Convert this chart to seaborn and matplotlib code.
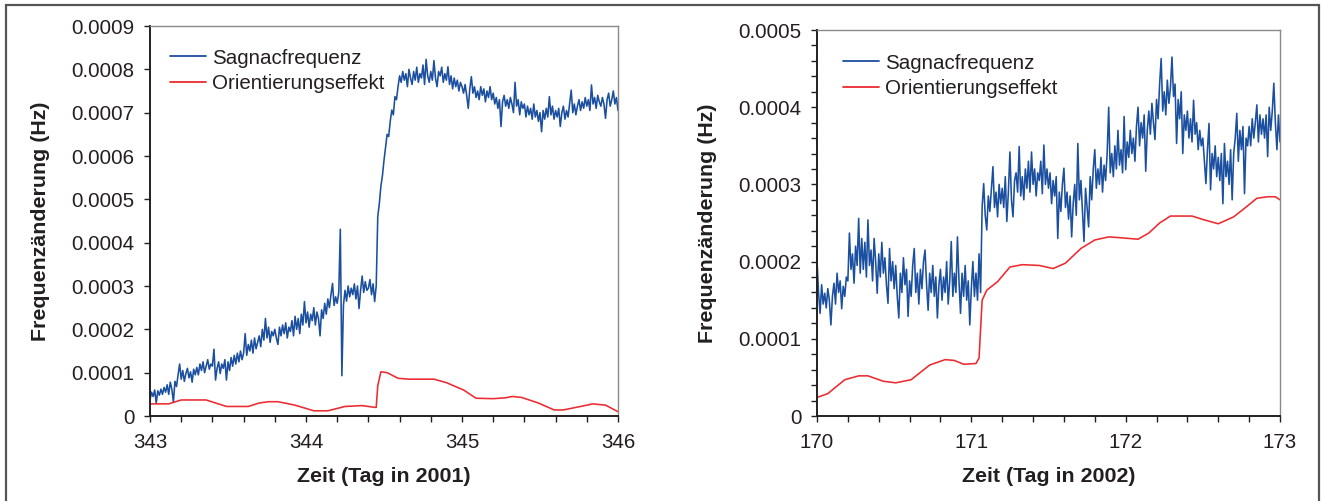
import numpy as np
import pandas as pd
import matplotlib
matplotlib.use("Agg")
import matplotlib.pyplot as plt
from matplotlib.patches import Rectangle
from matplotlib.ticker import MultipleLocator, FixedLocator
import seaborn as sns

# ---------------- data (values in units of 1e-4 Hz) ----------------
series_names = ["Sagnacfrequenz", "Orientierungseffekt"]

# Panel 1: day 343 .. 346 of 2001, Sagnac frequency sampled every 0.01 day
sagnac_2001 = [
    0.37, 0.55, 0.45, 0.6, 0.3, 0.58, 0.48, 0.62, 0.5, 0.66,
    0.55, 0.72, 0.5, 0.78, 0.62, 0.32, 0.8, 0.68, 0.95, 1.2,
    0.85, 1.05, 0.8, 0.98, 1.1, 0.88, 1.02, 0.78, 1.08, 0.95,
    1.12, 0.95, 1.2, 1.05, 1.25, 1.0, 1.15, 1.3, 1.08, 1.2,
    1.15, 1.54, 0.83, 1.1, 1.25, 0.98, 1.2, 1.1, 1.3, 0.83,
    1.25, 1.05, 1.35, 1.15, 1.4, 1.2, 1.45, 1.25, 1.5, 1.3,
    1.45, 1.9, 1.4, 1.65, 1.5, 1.75, 1.45, 1.8, 1.55, 1.7,
    1.85, 1.6, 2.0, 1.75, 2.25, 1.8, 2.05, 1.7, 1.95, 1.85,
    2.0, 1.8, 1.65, 2.05, 1.85, 2.1, 1.9, 2.15, 1.8, 2.05,
    1.95, 2.2, 1.85, 2.3, 2.0, 2.25, 1.9, 2.35, 2.1, 2.64,
    2.15, 2.4, 2.05, 2.35, 2.2, 2.5, 2.1, 2.4, 2.25, 1.85,
    2.45, 2.25, 2.6, 2.35, 2.7, 2.5, 2.8, 3.06, 2.55, 2.75,
    2.6, 2.85, 4.31, 0.93, 2.55, 2.9, 2.65, 3.0, 2.75, 2.95,
    2.8, 3.05, 2.7, 3.0, 2.48, 2.9, 3.23, 2.85, 3.1, 2.9,
    2.95, 3.15, 2.8, 3.05, 2.64, 3.0, 4.6, 4.9, 5.3, 5.55,
    5.9, 6.2, 6.5, 6.45, 6.8, 7.06, 6.95, 7.37, 7.3, 7.6,
    7.85, 7.7, 7.95, 7.75, 7.9, 7.6, 8.0, 7.8, 7.65, 7.95,
    7.75, 8.05, 7.7, 7.9, 7.8, 8.1, 7.65, 8.23, 7.85, 7.7,
    7.95, 7.75, 8.2, 7.8, 7.6, 7.95, 7.85, 8.05, 7.7, 7.9,
    7.75, 8.06, 7.65, 7.85, 7.55, 7.8, 7.6, 7.75, 7.5, 7.7,
    7.6, 7.45, 7.65, 7.4, 7.1, 7.55, 7.83, 7.45, 7.6, 7.35,
    7.5, 7.3, 7.6, 7.4, 7.55, 7.25, 7.5, 7.35, 7.6, 7.3,
    7.45, 7.2, 7.35, 7.1, 7.3, 6.68, 7.25, 7.4, 7.15, 7.3,
    7.1, 7.35, 7.2, 7.0, 7.7, 7.15, 7.3, 6.95, 7.25, 7.1,
    7.2, 6.9, 7.15, 6.95, 7.1, 6.85, 7.2, 6.9, 7.05, 6.8,
    7.0, 6.56, 7.05, 6.85, 7.1, 6.9, 7.37, 6.95, 7.15, 6.85,
    7.05, 6.9, 7.1, 6.68, 7.0, 7.15, 6.85, 7.05, 6.9, 7.2,
    7.52, 7.0, 7.2, 6.95, 7.15, 7.3, 7.05, 7.25, 7.1, 7.35,
    7.15, 7.3, 7.05, 7.64, 7.2, 7.35, 7.1, 7.4, 7.25, 7.15,
    7.35, 7.2, 6.87, 7.3, 7.45, 7.15, 7.3, 7.5, 7.2, 7.35,
    7.05,
]
orient_2001_t = [343.0, 343.12, 343.2, 343.36, 343.49, 343.63, 343.7, 343.76,
                 343.82, 343.93, 344.05, 344.14, 344.25, 344.36, 344.44, 344.45,
                 344.46, 344.48, 344.52, 344.59, 344.66, 344.82, 344.9, 345.01,
                 345.09, 345.2, 345.28, 345.32, 345.38, 345.49, 345.59, 345.65,
                 345.76, 345.84, 345.92, 346.0]
orient_2001 = [0.28, 0.28, 0.37, 0.37, 0.22, 0.22, 0.3, 0.33,
               0.33, 0.25, 0.12, 0.12, 0.22, 0.24, 0.2, 0.2,
               0.7, 1.02, 1.0, 0.87, 0.85, 0.85, 0.77, 0.6,
               0.41, 0.4, 0.42, 0.45, 0.43, 0.3, 0.14, 0.14,
               0.22, 0.28, 0.25, 0.1]

# Panel 2: day 170 .. 173 of 2002
sagnac_2002 = [
    2.02, 1.6, 1.33, 1.7, 1.45, 1.59, 1.4, 1.65, 1.5, 1.18,
    1.55, 1.72, 1.45, 1.85, 1.6, 1.75, 1.39, 1.68, 1.55, 1.8,
    1.75, 2.37, 1.9, 2.1, 1.72, 2.2, 1.95, 2.56, 1.85, 2.3,
    1.9, 2.25, 1.8, 2.54, 1.95, 2.15, 1.75, 2.3, 2.0, 1.59,
    2.1, 1.8, 2.25, 1.85, 2.05, 1.7, 1.46, 2.17, 1.75, 2.0,
    1.65, 1.95, 1.55, 1.27, 1.85, 1.6, 2.05, 1.7, 1.9, 1.29,
    1.75, 1.55, 1.95, 2.17, 1.6, 1.85, 1.45, 1.9, 1.65, 2.0,
    2.15, 1.7, 1.37, 1.85, 1.6, 1.95, 1.55, 1.8, 1.27, 1.7,
    1.9, 1.5, 1.8, 1.6, 2.0, 1.45, 1.75, 2.26, 1.55, 1.85,
    1.6, 2.32, 1.75, 1.33, 1.85, 1.55, 1.95, 1.5, 1.75, 1.18,
    1.65, 2.0, 1.55, 1.85, 1.5, 2.1, 1.6, 2.71, 3.01, 2.6,
    2.41, 2.85, 2.65, 2.95, 3.23, 2.7, 2.9, 2.58, 3.0, 2.75,
    2.95, 2.7, 3.1, 2.52, 2.9, 3.42, 2.8, 2.58, 3.05, 3.15,
    2.9, 3.49, 2.85, 3.1, 2.8, 3.2, 2.95, 3.3, 2.9, 3.42,
    3.0, 3.2, 2.85, 3.15, 3.05, 3.3, 2.88, 3.51, 3.0, 3.2,
    2.95, 3.15, 2.75, 3.05, 2.85, 3.1, 2.3, 2.9, 2.65, 3.0,
    3.21, 2.7, 2.9, 2.55, 2.85, 2.32, 2.75, 3.0, 2.6, 3.53,
    2.8, 3.05, 2.65, 2.26, 2.95, 2.7, 2.45, 3.1, 2.8, 3.2,
    3.45, 2.95, 3.2, 3.0, 3.35, 2.9, 3.25, 3.05, 3.4, 4.0,
    3.15, 3.4, 3.1, 3.5, 3.2, 3.7, 3.25, 3.45, 3.15, 3.88,
    3.19, 3.55, 3.35, 3.7, 3.4, 3.6, 3.3, 3.75, 4.0, 3.5,
    3.8, 3.6, 3.9, 3.17, 3.7, 3.95, 3.65, 4.05, 3.8, 3.58,
    4.1, 3.85, 4.3, 4.63, 3.95, 4.2, 3.9, 4.35, 4.05, 4.25,
    4.65, 4.14, 4.3, 3.53, 4.1, 3.85, 4.2, 3.4, 3.9, 3.7,
    3.95, 3.6, 3.85, 3.55, 4.09, 3.65, 3.8, 3.45, 3.7, 3.5,
    3.6, 3.3, 3.01, 3.45, 3.79, 2.93, 3.4, 3.2, 3.5, 3.1,
    3.35, 3.05, 3.4, 2.75, 3.53, 3.1, 3.3, 3.0, 3.45, 2.8,
    3.4, 3.6, 3.92, 3.3, 3.7, 3.45, 3.75, 2.88, 3.6, 3.5,
    3.75, 3.5, 3.85, 3.6, 3.8, 4.03, 3.55, 3.9, 3.65, 3.85,
    3.6, 3.9, 3.36, 4.0, 3.7, 3.95, 4.31, 3.8, 3.45, 3.9,
    3.55,
]
orient_2002_t = [170.0, 170.07, 170.18, 170.27, 170.33, 170.43, 170.51, 170.61,
                 170.73, 170.83, 170.89, 170.95, 171.03, 171.05, 171.07, 171.1,
                 171.17, 171.25, 171.33, 171.44, 171.53, 171.61, 171.71, 171.8,
                 171.89, 171.96, 172.08, 172.15, 172.22, 172.29, 172.43, 172.51,
                 172.6, 172.7, 172.77, 172.85, 172.92, 172.97, 173.0]
orient_2002 = [0.24, 0.29, 0.47, 0.52, 0.52, 0.45, 0.43, 0.47,
               0.66, 0.73, 0.72, 0.67, 0.68, 0.75, 1.5, 1.63,
               1.74, 1.93, 1.96, 1.95, 1.91, 1.98, 2.17, 2.28,
               2.32, 2.31, 2.29, 2.37, 2.5, 2.59, 2.59, 2.54,
               2.49, 2.58, 2.69, 2.82, 2.84, 2.84, 2.8]

xlim_2001 = (343, 346)
xlim_2002 = (170, 173)
xticks_2001 = [343, 344, 345, 346]
xticks_2002 = [170, 171, 172, 173]
yticks_2001 = [0, 0.0001, 0.0002, 0.0003, 0.0004, 0.0005, 0.0006, 0.0007, 0.0008, 0.0009]
ytick_labels_2001 = ["0", "0.0001", "0.0002", "0.0003", "0.0004", "0.0005",
                     "0.0006", "0.0007", "0.0008", "0.0009"]
yticks_2002 = [0, 0.0001, 0.0002, 0.0003, 0.0004, 0.0005]
ytick_labels_2002 = ["0", "0.0001", "0.0002", "0.0003", "0.0004", "0.0005"]
xlabel_2001 = "Zeit (Tag in 2001)"
xlabel_2002 = "Zeit (Tag in 2002)"
ylabel = "Frequenzänderung (Hz)"

UNIT = 1e-4

def build_frame(t0, t1, sagnac, orient_t, orient):
    s = np.array(sagnac) * UNIT
    ts = np.linspace(t0, t1, len(s))
    df1 = pd.DataFrame({"t": ts, "v": s, "series": series_names[0]})
    df2 = pd.DataFrame({"t": orient_t, "v": np.array(orient) * UNIT, "series": series_names[1]})
    return pd.concat([df1, df2], ignore_index=True)

df_2001 = build_frame(343, 346, sagnac_2001, orient_2001_t, orient_2001)
df_2002 = build_frame(170, 173, sagnac_2002, orient_2002_t, orient_2002)

# ---------------- style ----------------
sns.set_style("ticks")
plt.rcParams["font.family"] = ["Liberation Sans", "DejaVu Sans"]
plt.rcParams["axes.unicode_minus"] = False

palette = {"Sagnacfrequenz": "#1b4f9f", "Orientierungseffekt": "#ec2a2f"}
text_color = "#231f20"

W, H = 1321, 501
fig = plt.figure(figsize=(W / 100, H / 100), dpi=100)

def fx(px):
    return px / W

def fy(py):
    return 1 - py / H

ax1 = fig.add_axes([fx(150), fy(416), fx(618) - fx(150), fy(26) - fy(416)])
ax2 = fig.add_axes([fx(817), fy(416), fx(1280) - fx(817), fy(30) - fy(416)])

tick_fs = 14.8
label_fs = 15.4

def style_axis(ax, df, xlim, xticks, yticks, ylabels, xlabel, minor_y, ylim_top,
               ylab_x, leg_anchor):
    sns.lineplot(data=df, x="t", y="v", hue="series", hue_order=series_names,
                 palette=palette, estimator=None, sort=False, linewidth=1.15,
                 ax=ax)
    ax.set_xlim(*xlim)
    ax.set_ylim(0, ylim_top)
    ax.xaxis.set_major_locator(FixedLocator(xticks))
    ax.set_xticklabels([str(x) for x in xticks])
    ax.xaxis.set_minor_locator(MultipleLocator(0.2))
    ax.yaxis.set_major_locator(FixedLocator(yticks))
    ax.set_yticklabels(ylabels)
    if minor_y:
        ax.yaxis.set_minor_locator(MultipleLocator(0.00002))
    ax.tick_params(axis="both", which="both", direction="out", length=4.3,
                   width=1.0, color="#231f20", labelcolor=text_color,
                   labelsize=tick_fs)
    ax.tick_params(axis="x", which="major", pad=8)
    ax.tick_params(axis="y", which="major", pad=7)
    for side in ("left", "bottom"):
        ax.spines[side].set_color("#231f20")
        ax.spines[side].set_linewidth(1.4)
    for side in ("top", "right"):
        ax.spines[side].set_visible(True)
        ax.spines[side].set_color("#8a8a8a")
        ax.spines[side].set_linewidth(1.0)
    ax.set_xlabel(xlabel, fontsize=label_fs, fontweight="bold", color=text_color)
    ax.set_ylabel(ylabel, fontsize=label_fs, fontweight="bold", color=text_color)
    ax.xaxis.set_label_coords(0.5, -0.132)
    ax.yaxis.set_label_coords(ylab_x, 0.5)
    handles, labels = ax.get_legend_handles_labels()
    leg = ax.legend(handles, labels, loc="upper left", bbox_to_anchor=leg_anchor,
                    frameon=False, fontsize=tick_fs, handlelength=1.75,
                    handletextpad=0.3, labelspacing=0.32, borderpad=0.0,
                    borderaxespad=0.0)
    for txt in leg.get_texts():
        txt.set_color(text_color)
    for ln in leg.get_lines():
        ln.set_linewidth(1.3)
    ax.grid(False)

style_axis(ax1, df_2001, xlim_2001, xticks_2001, yticks_2001, ytick_labels_2001,
           xlabel_2001, False, 0.0009, -0.213, (0.043, 0.942))
style_axis(ax2, df_2002, xlim_2002, xticks_2002, yticks_2002, ytick_labels_2002,
           xlabel_2002, True, 0.0005, -0.216, (0.056, 0.939))

# outer frame
frame = Rectangle((fx(6), -0.2), fx(1319) - fx(6), fy(5) + 0.2, fill=False,
                  edgecolor="#555555", linewidth=1.6, transform=fig.transFigure)
fig.add_artist(frame)

fig.savefig("out.png", dpi=100)
